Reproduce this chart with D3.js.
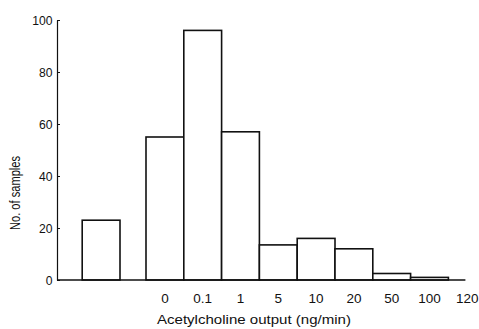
<!DOCTYPE html>
<html>
<head>
<meta charset="utf-8">
<script src="https://cdn.jsdelivr.net/npm/d3@7"></script>
<style>
  body { margin: 0; background: #fff; }
  svg { display: block; }
  text { font-family: "Liberation Sans Narrow", "Liberation Sans", Arial, sans-serif; fill: #111; }
</style>
</head>
<body>
<div id="chart"></div>
<script>
// bins of acetylcholine output (ng/min)
var categories = ["0", "0.1", "1", "5", "10", "20", "50", "100"];
var counts = [55, 96, 57, 13.5, 16, 12, 2.5, 1];
var tickLabels = ["0", "0.1", "1", "5", "10", "20", "50", "100", "120"];
// separate bar for samples with no detectable output
var undetectedCount = 23;
var yTicks = [0, 20, 40, 60, 80, 100];

var W = 479, H = 329;
var margin = {top: 20, right: 10, bottom: 49, left: 57};
var x0 = 146, bw = 37.8, gap = 26;

var svg = d3.select("#chart").append("svg")
    .attr("width", W)
    .attr("height", H);

var y = d3.scaleLinear().domain([0, 100]).range([H - margin.bottom, margin.top]);
var x = d3.scaleBand().domain(tickLabels)
    .range([x0, x0 + bw * tickLabels.length])
    .paddingInner(0).paddingOuter(0);

var ink = "#111";

// bars
svg.selectAll(".bar").data(categories).enter().append("rect")
    .attr("class", "bar")
    .attr("x", function(d){ return x(d); })
    .attr("width", x.bandwidth())
    .attr("y", function(d, i){ return y(counts[i]); })
    .attr("height", function(d, i){ return y(0) - y(counts[i]); })
    .style("fill", "#fff")
    .style("stroke", ink)
    .style("stroke-width", 1.6);

svg.append("rect")
    .attr("x", x("0") - gap - x.bandwidth())
    .attr("width", x.bandwidth())
    .attr("y", y(undetectedCount))
    .attr("height", y(0) - y(undetectedCount))
    .style("fill", "#fff")
    .style("stroke", ink)
    .style("stroke-width", 1.6);

// y axis
var yAxis = d3.axisLeft(y).tickValues(yTicks).tickSizeInner(-3).tickSizeOuter(0).tickPadding(5);
var gy = svg.append("g")
    .attr("transform", "translate(" + margin.left + ",0)")
    .call(yAxis);
gy.select(".domain").style("stroke", ink).style("stroke-width", 1.2);
gy.selectAll(".tick line").style("stroke", ink).style("stroke-width", 1);
gy.selectAll("text").style("font-size", "13.5px").attr("font-family", null)
    .attr("transform", "scale(0.9,1)");

// x axis baseline and labels
svg.append("line")
    .attr("x1", margin.left).attr("x2", x("120") + x.bandwidth() * 0.45)
    .attr("y1", y(0)).attr("y2", y(0))
    .style("stroke", ink).style("stroke-width", 1.4);

svg.selectAll(".xlab").data(tickLabels).enter().append("text")
    .attr("class", "xlab")
    .attr("x", function(d){ return x(d) + x.bandwidth() / 2; })
    .attr("y", y(0) + 23)
    .attr("text-anchor", "middle")
    .style("font-size", "13.5px")
    .text(function(d){ return d; });

svg.append("text")
    .attr("x", 254)
    .attr("y", 324)
    .attr("text-anchor", "middle")
    .attr("textLength", 194)
    .attr("lengthAdjust", "spacingAndGlyphs")
    .style("font-size", "13.5px")
    .text("Acetylcholine output (ng/min)");

svg.append("text")
    .attr("transform", "translate(20,193) rotate(-90)")
    .attr("text-anchor", "middle")
    .attr("textLength", 74)
    .attr("lengthAdjust", "spacingAndGlyphs")
    .style("font-size", "14px")
    .text("No. of samples");
</script>
</body>
</html>
